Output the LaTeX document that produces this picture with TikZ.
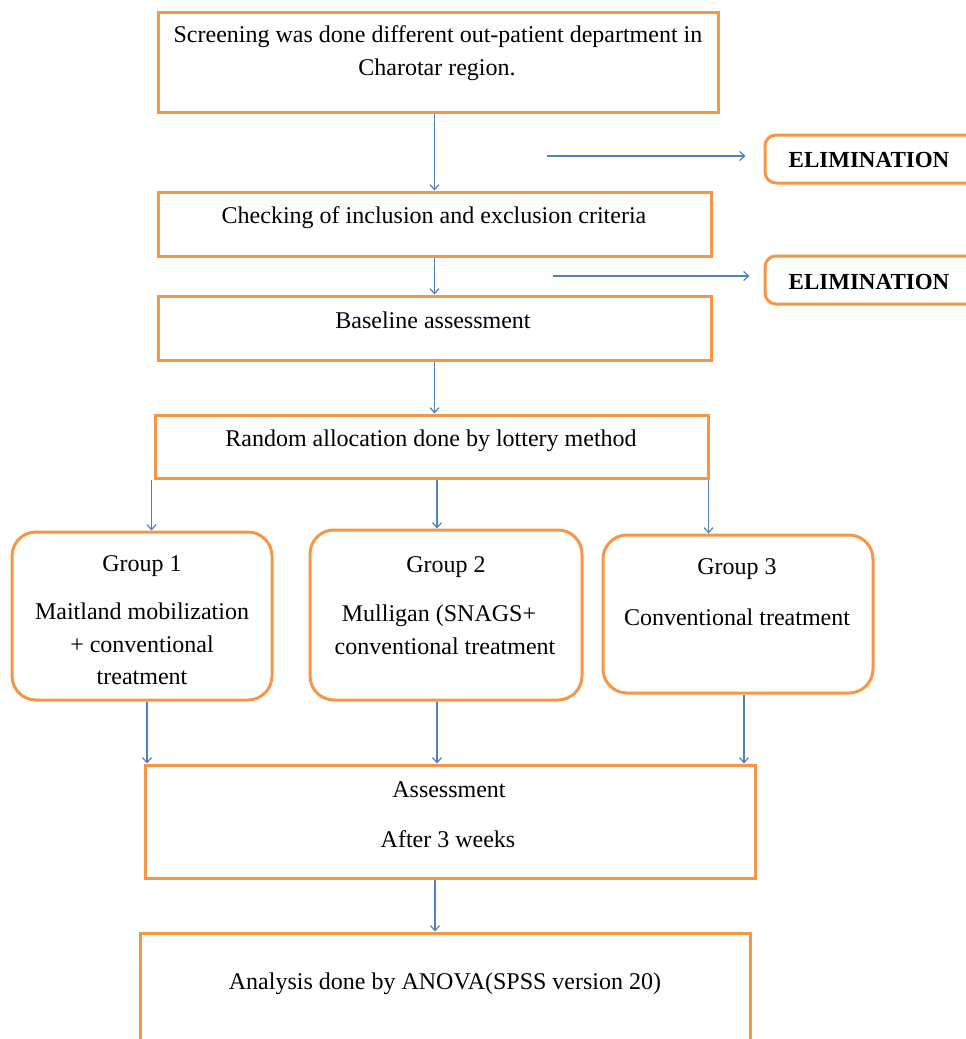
\documentclass[tikz,border=0pt]{standalone}
\usepackage{fontspec}
\setmainfont{Liberation Serif}
\usetikzlibrary{arrows.meta,fit}
\definecolor{boxorange}{HTML}{F79646}
\definecolor{arrowblue}{HTML}{4F81BD}
\begin{document}
\begin{tikzpicture}[x=1pt,y=-1pt,
  box/.style={draw=boxorange, line width=3pt, inner sep=0pt, fill=white},
  rbox/.style={box, rounded corners=24pt},
  ebox/.style={box, rounded corners=11pt},
  txt/.style={inner sep=0pt, anchor=base, font=\fontsize{24}{28}\selectfont},
  btxt/.style={txt, font=\fontsize{23}{28}\selectfont\bfseries},
  arr/.style={draw=arrowblue, line width=1.2pt, -{Straight Barb[length=5pt,width=9pt,line width=1.2pt]}}]
\useasboundingbox (0,0) rectangle (966,1039);
\clip (0,0) rectangle (966,1039);

% boxes
\node[box, fit={(158,12)(718,112)}] (top) {};
\node[box, fit={(158,192)(711,256)}] (check) {};
\node[box, fit={(158,296)(711,360)}] (base) {};
\node[box, fit={(155,415)(708,478)}] (rand) {};
\node[rbox, fit={(12,532)(272,700)}] (g1) {};
\node[rbox, fit={(310,530)(582,700)}] (g2) {};
\node[rbox, fit={(603,535)(873,693)}] (g3) {};
\node[box, fit={(145,765)(755,878)}] (assess) {};
\node[box, fit={(140,933)(750,1070)}] (anal) {};
\node[ebox, fit={(765,135)(990,183)}] (e1) {};
\node[ebox, fit={(765,256)(990,304)}] (e2) {};

% texts
\node[txt] (t1) at (438,42) {Screening was done different out-patient department in};
\node[txt] (t2) at (437,75) {Charotar region.};
\node[txt] (t3) at (434,223) {Checking of inclusion and exclusion criteria};
\node[txt] (t4) at (433,328) {Baseline assessment};
\node[txt] (t5) at (431,446) {Random allocation done by lottery method};
\node[txt] (g1a) at (142,571) {Group 1};
\node[txt] (g1b) at (142,619) {Maitland mobilization};
\node[txt] (g1c) at (142,652) {+ conventional};
\node[txt] (g1d) at (142,684) {treatment};
\node[txt] (g2a) at (446,572) {Group 2};
\node[txt] (g2b) at (439,621) {Mulligan (SNAGS+};
\node[txt] (g2c) at (445,654) {conventional treatment};
\node[txt] (g3a) at (737,574) {Group 3};
\node[txt] (g3b) at (737,625) {Conventional treatment};
\node[txt] (t6) at (449,797) {Assessment};
\node[txt] (t7) at (448,847) {After 3 weeks};
\node[txt] (t8) at (445,989) {Analysis done by ANOVA(SPSS version 20)};
\node[btxt] (et1) at (869,167) {ELIMINATION};
\node[btxt] (et2) at (869,289) {ELIMINATION};

% connectors
\draw[arr] (top.south -| check.north) -- (check.north);
\draw[arr] (check.south -| check.north) -- (base.north);
\draw[arr] (base.south) -- (base.south |- rand.north);
\coordinate (h1) at (547,156);
\coordinate (h2) at (553,276);
\draw[arr] (h1) -- ([xshift=-18pt]h1 -| e1.west);
\draw[arr] (h2) -- ([xshift=-14pt]h2 -| e2.west);
\draw[arr] ([xshift=-2pt]rand.south west) -- ([xshift=-2pt]rand.south west |- g1.north);
\draw[arr] ([xshift=5.5pt]rand.south) -- ([xshift=5.5pt]rand.south |- g2.north);
\draw[arr] ([xshift=-1pt]rand.south east) -- ([xshift=-1pt]rand.south east |- g3.north);
\draw[arr] ([xshift=5pt]g1.south) -- ([xshift=5pt]g1.south |- assess.north);
\draw[arr] ([xshift=-9pt]g2.south) -- ([xshift=-9pt]g2.south |- assess.north);
\draw[arr] ([xshift=6pt]g3.south) -- ([xshift=6pt]g3.south |- assess.north);
\draw[arr] ([xshift=-15pt]assess.south) -- ([xshift=-15pt]assess.south |- anal.north);
\end{tikzpicture}
\end{document}
